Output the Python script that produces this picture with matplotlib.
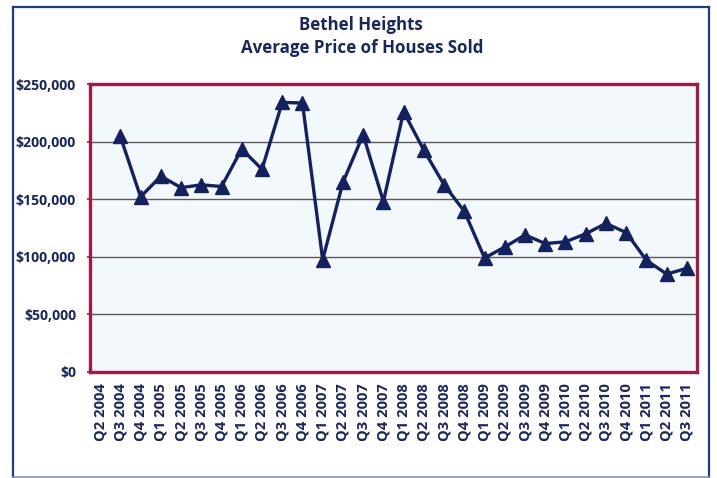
import numpy as np
import matplotlib
matplotlib.use("Agg")
import matplotlib.pyplot as plt
from matplotlib.lines import Line2D
from matplotlib.ticker import FuncFormatter, MultipleLocator

plt.rcParams['font.family'] = ['Open Sans', 'DejaVu Sans']

# Quarterly average sale price (Q2 2004 has no sales recorded)
quarters = [
    "Q2 2004", "Q3 2004", "Q4 2004",
    "Q1 2005", "Q2 2005", "Q3 2005", "Q4 2005",
    "Q1 2006", "Q2 2006", "Q3 2006", "Q4 2006",
    "Q1 2007", "Q2 2007", "Q3 2007", "Q4 2007",
    "Q1 2008", "Q2 2008", "Q3 2008", "Q4 2008",
    "Q1 2009", "Q2 2009", "Q3 2009", "Q4 2009",
    "Q1 2010", "Q2 2010", "Q3 2010", "Q4 2010",
    "Q1 2011", "Q2 2011", "Q3 2011",
]
avg_price = [
    np.nan, 204500, 152000,
    170000, 160000, 162500, 161000,
    193500, 176000, 234000, 233500,
    97500, 164500, 206000, 148000,
    226000, 192500, 162500, 139500,
    99000, 108500, 119000, 111500,
    113000, 120000, 129000, 121000,
    97000, 85000, 90000,
]
title_lines = ["Bethel Heights", "Average Price of Houses Sold"]

NAVY = "#14215c"
TEXT = "#1c2759"
CRIMSON = "#9a1d45"
PANEL = "#f3f8fd"

W, H = 717, 478
fig = plt.figure(figsize=(W / 100, H / 100), dpi=100)
fig.patch.set_facecolor("white")

# chart-area border
fig.add_artist(Line2D([13 / W, 13 / W], [1 - 7 / H, 1 - 477 / H], color="#1f3a80", lw=1.6))
fig.add_artist(Line2D([13 / W, 709 / W], [1 - 7 / H, 1 - 7 / H], color="#1f3a80", lw=1.6))
fig.add_artist(Line2D([709 / W, 709 / W], [1 - 7 / H, 1 - 477 / H], color="#1f3a80", lw=1.6))
fig.add_artist(Line2D([13 / W, 709 / W], [1 - 477 / H, 1 - 477 / H], color="#8a90aa", lw=1.2))

left, right, top, bottom = 90, 697, 84, 372
ax = fig.add_axes([left / W, 1 - bottom / H, (right - left) / W, (bottom - top) / H])
ax.set_facecolor(PANEL)

x = np.arange(len(quarters))
ax.plot(x, avg_price, color=NAVY, lw=2.4, marker="^", markersize=9.5,
        markerfacecolor=NAVY, markeredgecolor=NAVY, zorder=3)

ax.set_xlim(-0.5, len(quarters) - 0.5)
ax.set_ylim(0, 250000)
ax.yaxis.set_major_locator(MultipleLocator(50000))
ax.yaxis.set_major_formatter(FuncFormatter(lambda v, _: f"${v:,.0f}"))
ax.yaxis.grid(True, color="#5a5a5a", lw=1.0)
ax.set_axisbelow(True)

ax.set_xticks(x)
ax.set_xticklabels(quarters, rotation=90, fontsize=10.6, fontweight="bold", color=TEXT)
ax.tick_params(axis="x", length=0, pad=8)
ax.tick_params(axis="y", length=2.5, width=1.2, color=CRIMSON, pad=7.5,
               labelsize=10.2, labelcolor=TEXT)
for lbl in ax.get_yticklabels():
    lbl.set_fontweight("bold")

for sp in ax.spines.values():
    sp.set_color(CRIMSON)
    sp.set_linewidth(2.4)

fig.text(361 / W, 1 - 25 / H, title_lines[0], ha="center", va="center",
         fontsize=12.2, fontweight="bold", color=TEXT)
fig.text(362 / W, 1 - 48 / H, title_lines[1], ha="center", va="center",
         fontsize=12.2, fontweight="bold", color=TEXT)

fig.savefig("out.png", dpi=100, facecolor="white")
